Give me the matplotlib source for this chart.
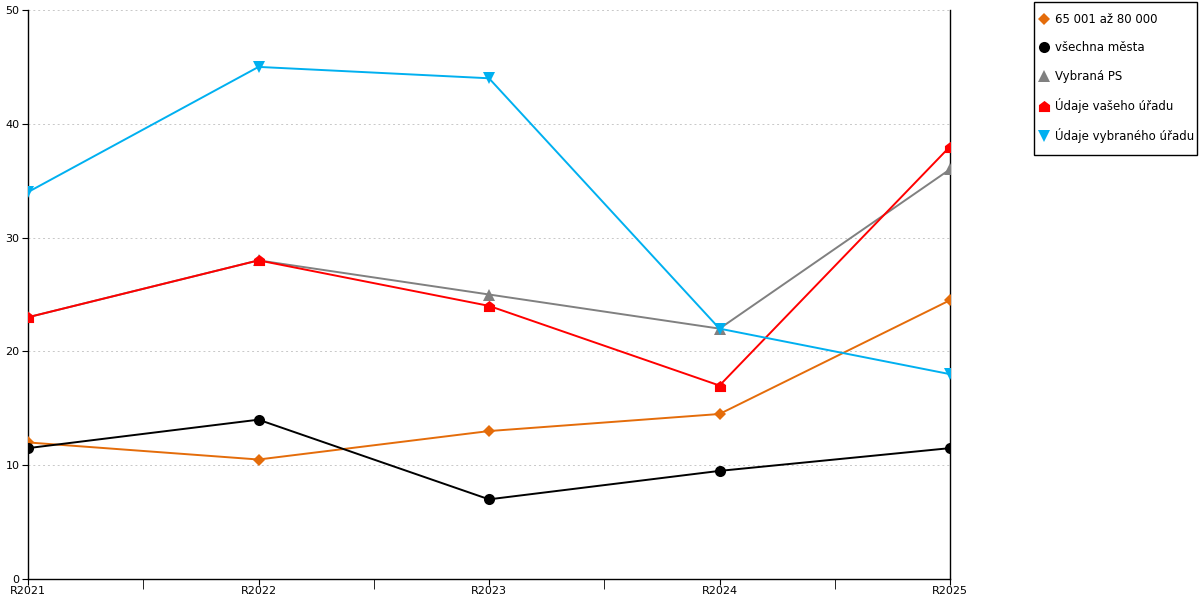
import matplotlib
matplotlib.use("Agg")
import matplotlib.pyplot as plt
from matplotlib.path import Path
from matplotlib.lines import Line2D
from matplotlib.patches import Rectangle

years = ["R2021", "R2022", "R2023", "R2024", "R2025"]
obce_65_80 = [12, 10.5, 13, 14.5, 24.5]
vsechna_mesta = [11.5, 14, 7, 9.5, 11.5]
vybrana_ps = [23, 28, 25, 22, 36]
vas_urad = [23, 28, 24, 17, 38]
vybrany_urad = [34, 45, 44, 22, 18]

# house-shaped marker for "Údaje vašeho úřadu"
house = Path([(-1, -1), (1, -1), (1, 0.25), (0, 1), (-1, 0.25), (-1, -1)],
             [Path.MOVETO, Path.LINETO, Path.LINETO, Path.LINETO, Path.LINETO, Path.CLOSEPOLY])

series = [
    ("65 001 až 80 000", obce_65_80, "#E46C0A", "D", 6),
    ("všechna města", vsechna_mesta, "#000000", "o", 8),
    ("Vybraná PS", vybrana_ps, "#808080", "^", 8),
    ("Údaje vašeho úřadu", vas_urad, "#FF0000", house, 8),
    ("Údaje vybraného úřadu", vybrany_urad, "#00B0F0", "v", 8),
]

W, H = 1200, 600
fig = plt.figure(figsize=(12, 6), dpi=100)
ax = fig.add_axes([28 / W, 21 / H, 922 / W, 569 / H])

x = list(range(len(years)))
handles = []
for label, vals, col, mk, ms in series:
    ax.plot(x, vals, color=col, lw=1.4, marker=mk, markersize=ms,
            markeredgewidth=0, zorder=3)
    handles.append(Line2D([], [], color=col, marker=mk, markersize=ms,
                          markeredgewidth=0, linestyle="none", label=label))

ax.set_xlim(0, len(years) - 1)
ax.set_ylim(0, 50)
ax.set_yticks(range(0, 51, 10))
ax.set_xticks(x)
ax.set_xticklabels(years)
ax.set_xticks([i + 0.5 for i in range(len(years) - 1)], minor=True)
ax.tick_params(axis="x", which="major", length=4, direction="out", labelsize=8, pad=1)
ax.tick_params(axis="x", which="minor", length=7, direction="out")
ax.tick_params(axis="y", length=4, direction="out", labelsize=8, pad=2)

ax.grid(axis="y", color="#C8C8C8", linestyle=(0, (2, 3)), lw=0.7)
ax.set_axisbelow(True)
ax.spines["top"].set_visible(False)
for s in ("left", "right", "bottom"):
    ax.spines[s].set_color("black")
    ax.spines[s].set_linewidth(1)

# legend frame drawn separately so it hugs the text like the original
fig.patches.append(Rectangle((1034 / W, 1 - 155 / H), 163 / W, 153 / H,
                             transform=fig.transFigure, fill=False,
                             edgecolor="black", lw=1))
fig.legend(handles=handles, loc="upper left",
           bbox_to_anchor=(1040 / W, 1 - 13 / H),
           frameon=False, fontsize=8.5, handlelength=0.7, handletextpad=0.6,
           labelspacing=1.3, borderpad=0, borderaxespad=0)

fig.savefig("out.png", dpi=100)
